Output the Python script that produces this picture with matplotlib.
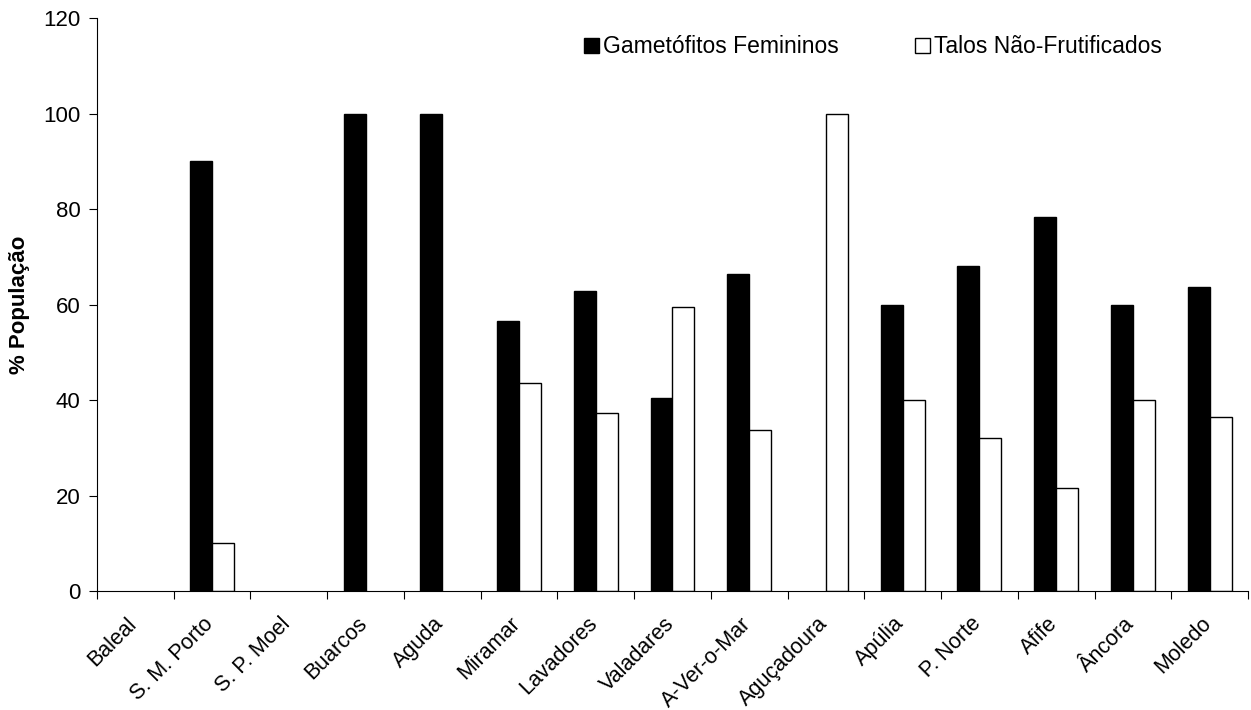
import matplotlib.pyplot as plt
import matplotlib.transforms as mtransforms
import numpy as np
from matplotlib.patches import Patch

plt.rcParams['font.family'] = ['Liberation Sans', 'DejaVu Sans']

locais = ["Baleal", "S. M. Porto", "S. P. Moel", "Buarcos", "Aguda", "Miramar",
          "Lavadores", "Valadares", "A-Ver-o-Mar", "Aguçadoura", "Apúlia",
          "P. Norte", "Afife", "Âncora", "Moledo"]
gametofitos = [0, 90, 0, 100, 100, 56.5, 62.8, 40.5, 66.3, 0, 60, 68, 78.4, 60, 63.6]
talos = [0, 10, 0, 0, 0, 43.5, 37.2, 59.5, 33.7, 100, 40, 32, 21.6, 40, 36.4]

FS = 16

fig = plt.figure(figsize=(12.51, 7.10), dpi=100)
ax = fig.add_axes([0.0775, 0.1676, 0.9201, 0.807])

x = np.arange(len(locais))
width = 1 / 3.5
# no outline for empty bars (otherwise a stray line shows on the baseline)
ax.bar(x - width / 2, gametofitos, width, color='black', edgecolor='black',
       linewidth=[1 if v > 0 else 0 for v in gametofitos])
ax.bar(x + width / 2, talos, width, color='white', edgecolor='black',
       linewidth=[1 if v > 0 else 0 for v in talos])

ax.set_xlim(-0.5, len(locais) - 0.5)
ax.set_ylim(0, 120)
ax.set_yticks(range(0, 121, 20))
ax.set_xticks(np.arange(-0.5, len(locais)))
ax.set_xticklabels([])
ax.set_xticks(x, minor=True)
ax.set_xticklabels(locais, minor=True, rotation=45, ha='right', va='top',
                   rotation_mode='anchor', fontsize=15.5)
ax.tick_params(axis='x', which='minor', length=0, pad=16)
ax.tick_params(axis='x', which='major', length=6, direction='out')
ax.tick_params(axis='y', length=6, direction='out', labelsize=FS, pad=6)

# nudge rotated labels a bit left, like the original
shift = mtransforms.ScaledTranslation(-9 / 100, 0, fig.dpi_scale_trans)
for lab in ax.get_xticklabels(minor=True):
    lab.set_transform(lab.get_transform() + shift)

for s in ['top', 'right']:
    ax.spines[s].set_visible(False)

ax.set_ylabel('% População', fontsize=FS, fontweight='bold')
ax.yaxis.set_label_coords(-0.058, 0.5)

handles = [Patch(facecolor='black', edgecolor='black'),
           Patch(facecolor='white', edgecolor='black')]
ax.legend(handles, ['Gametófitos Femininos', 'Talos Não-Frutificados'],
          ncol=2, frameon=False, fontsize=16.5, loc='upper left',
          bbox_to_anchor=(0.423, 0.97), borderpad=0, borderaxespad=0,
          handlelength=0.65, handleheight=0.65, handletextpad=0.2,
          columnspacing=3.3)

fig.savefig('out.png', dpi=100)
